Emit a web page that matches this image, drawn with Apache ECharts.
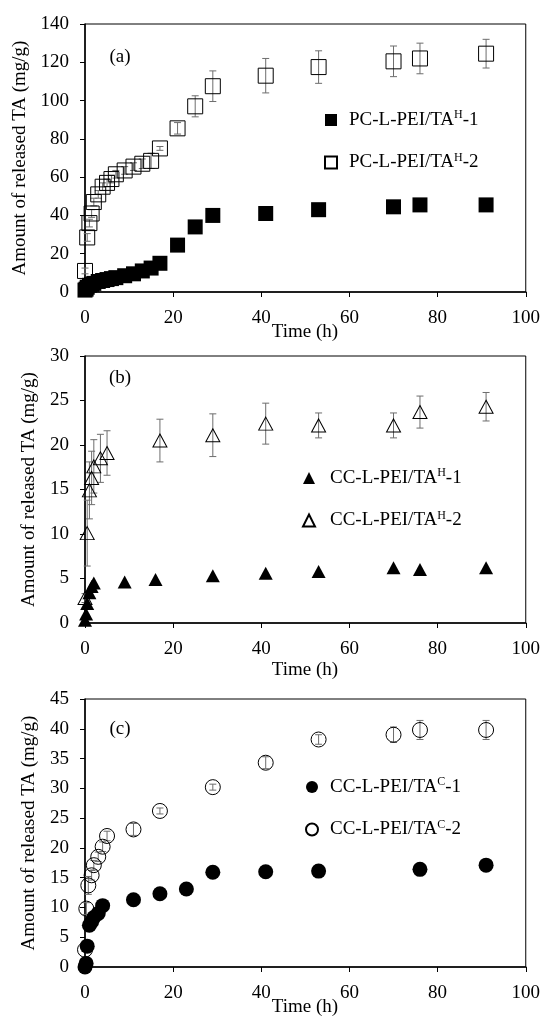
<!DOCTYPE html>
<html lang="en">
  <head>
    <meta charset="UTF-8" />
    <title>Release of TA</title>
    <script src="https://cdn.jsdelivr.net/npm/echarts@6/dist/echarts.min.js"></script>
    <style>
      html,
      body {
        margin: 0;
        padding: 0;
        background: #fff;
      }
      #chart {
        width: 543px;
        height: 1026px;
      }
    </style>
  </head>
  <body>
    <div id="chart"></div>
    <script>
      // panel (a)
      var timeA1 = [0, 0.25, 0.5, 1, 1.5, 2, 3, 4, 5, 6, 7, 9, 11, 13, 15, 17, 21, 25, 29, 41, 53, 70, 76, 91];
      var valA1 = [1, 1.5, 2.5, 3.5, 4, 4.5, 5.5, 6, 6.5, 7, 7.5, 8.5, 9.5, 11, 12.5, 15, 24.5, 34, 40, 41, 43, 44.5, 45.5, 45.5];
      var timeA2 = [0, 0.5, 1, 1.5, 2, 3, 4, 5, 6, 7, 9, 11, 13, 15, 17, 21, 25, 29, 41, 53, 70, 76, 91];
      var valA2 = [11, 28.5, 36, 41, 47, 51, 55, 57, 59, 61.5, 63.5, 65.5, 67, 68.5, 75, 85.5, 97, 107.5, 113, 117.5, 120.5, 122, 124.5];
      var errA2 = [1.5, 2, 2, 2, 2, 2, 2, 2, 2, 2, 2, 2, 2.5, 4, 1, 3, 5.5, 8, 9, 8.5, 8, 8, 7.5];

      // panel (b)
      var timeB1 = [0, 0.25, 0.5, 1, 1.5, 2, 9, 16, 29, 41, 53, 70, 76, 91];
      var valB1 = [0.3, 1, 2.2, 3.4, 4.1, 4.5, 4.6, 4.9, 5.3, 5.6, 5.8, 6.2, 6.0, 6.2];
      var timeB2 = [0, 0.5, 1, 1.5, 2, 3.5, 5, 17, 29, 41, 53, 70, 76, 91];
      var valB2 = [2.8, 10.1, 14.9, 16.3, 17.6, 18.5, 19.1, 20.5, 21.1, 22.4, 22.2, 22.2, 23.7, 24.3];
      var errB2 = [0.5, 3.7, 3.2, 3, 3, 2.7, 2.5, 2.4, 2.4, 2.3, 1.4, 1.4, 1.8, 1.6];

      // panel (c)
      var timeC1 = [0, 0.25, 0.5, 1, 1.5, 2, 3, 4, 11, 17, 23, 29, 41, 53, 76, 91];
      var valC1 = [0, 0.6, 3.5, 7, 7.6, 8.3, 9, 10.3, 11.3, 12.3, 13.1, 15.9, 16, 16.1, 16.4, 17.1];
      var timeC2 = [0, 0.3, 0.75, 1.5, 2, 3, 4, 5, 11, 17, 29, 41, 53, 70, 76, 91];
      var valC2 = [2.9, 9.8, 13.7, 15.4, 17.1, 18.5, 20.2, 22, 23.1, 26.2, 30.2, 34.3, 38.2, 39, 39.8, 39.8];
      var errC2 = [0.3, 1, 1.5, 0.8, 0.8, 0.8, 0.8, 0.8, 1, 0.5, 0.5, 1, 0.8, 1.3, 1.6, 1.6];

      var xTicks = [0, 20, 40, 60, 80, 100];
      var yMaxes = [140, 30, 45];
      var ySteps = [20, 5, 5];
      var panelNames = ["(a)", "(b)", "(c)"];
      var seriesNames = [
        ["PC-L-PEI/TAH-1", "PC-L-PEI/TAH-2"],
        ["CC-L-PEI/TAH-1", "CC-L-PEI/TAH-2"],
        ["CC-L-PEI/TAC-1", "CC-L-PEI/TAC-2"],
      ];

      var serif = '"Liberation Serif", "Times New Roman", serif';
      var grids = [
        { left: 85, top: 24, width: 441, height: 268 },
        { left: 85, top: 356, width: 441, height: 267 },
        { left: 85, top: 699, width: 441, height: 268 },
      ];

      function pairs(xs, ys) {
        return xs.map(function (x, i) {
          return [x, ys[i]];
        });
      }
      function bars(xs, ys, es) {
        return xs.map(function (x, i) {
          return [x, ys[i] - es[i], ys[i] + es[i]];
        });
      }

      function errorBar(params, api) {
        var x = api.value(0);
        var lo = api.coord([x, api.value(1)]);
        var hi = api.coord([x, api.value(2)]);
        var st = { stroke: "#6d6d6d", lineWidth: 1 };
        return {
          type: "group",
          children: [
            { type: "line", shape: { x1: lo[0], y1: lo[1], x2: hi[0], y2: hi[1] }, style: st },
            { type: "line", shape: { x1: lo[0] - 3.5, y1: lo[1], x2: lo[0] + 3.5, y2: lo[1] }, style: st },
            { type: "line", shape: { x1: hi[0] - 3.5, y1: hi[1], x2: hi[0] + 3.5, y2: hi[1] }, style: st },
          ],
        };
      }

      var xAxes = [];
      var yAxes = [];
      for (var i = 0; i < 3; i++) {
        xAxes.push({
          type: "value",
          gridIndex: i,
          min: xTicks[0],
          max: xTicks[xTicks.length - 1],
          interval: 20,
          axisLine: { onZero: false, lineStyle: { color: "#000", width: 1.5 } },
          axisTick: { length: 5, lineStyle: { color: "#000" } },
          axisLabel: { color: "#000", fontSize: 19, fontFamily: serif, margin: 17 },
          splitLine: { show: false },
        });
        yAxes.push({
          type: "value",
          gridIndex: i,
          min: 0,
          max: yMaxes[i],
          interval: ySteps[i],
          name: "Amount of released TA (mg/g)",
          nameLocation: "middle",
          nameGap: 46,
          nameTextStyle: { color: "#000", fontSize: 19, fontWeight: 400, fontFamily: serif },
          axisLine: { onZero: false, lineStyle: { color: "#000", width: 1.5 } },
          axisTick: { length: 5, lineStyle: { color: "#000" } },
          axisLabel: { color: "#000", fontSize: 19, fontFamily: serif, margin: 16 },
          splitLine: { show: false },
        });
      }

      var filled = { color: "#000", opacity: 1 };
      var hollow = { color: "rgba(0,0,0,0)", borderColor: "#000", borderWidth: 1, opacity: 1 };

      var series = [
        { name: seriesNames[0][0], type: "scatter", xAxisIndex: 0, yAxisIndex: 0, symbol: "rect", symbolSize: 15, itemStyle: filled, data: pairs(timeA1, valA1), z: 3 },
        { name: seriesNames[0][1], type: "scatter", xAxisIndex: 0, yAxisIndex: 0, symbol: "rect", symbolSize: 15, itemStyle: hollow, data: pairs(timeA2, valA2), z: 3 },
        { type: "custom", xAxisIndex: 0, yAxisIndex: 0, renderItem: errorBar, data: bars(timeA2, valA2, errA2), z: 2 },
        { name: seriesNames[1][0], type: "scatter", xAxisIndex: 1, yAxisIndex: 1, symbol: "triangle", symbolSize: [14, 13], itemStyle: filled, data: pairs(timeB1, valB1), z: 3 },
        { name: seriesNames[1][1], type: "scatter", xAxisIndex: 1, yAxisIndex: 1, symbol: "triangle", symbolSize: [14, 13], itemStyle: hollow, data: pairs(timeB2, valB2), z: 3 },
        { type: "custom", xAxisIndex: 1, yAxisIndex: 1, renderItem: errorBar, data: bars(timeB2, valB2, errB2), z: 2 },
        { name: seriesNames[2][0], type: "scatter", xAxisIndex: 2, yAxisIndex: 2, symbol: "circle", symbolSize: 15, itemStyle: filled, data: pairs(timeC1, valC1), z: 3 },
        { name: seriesNames[2][1], type: "scatter", xAxisIndex: 2, yAxisIndex: 2, symbol: "circle", symbolSize: 15, itemStyle: hollow, data: pairs(timeC2, valC2), z: 3 },
        { type: "custom", xAxisIndex: 2, yAxisIndex: 2, renderItem: errorBar, data: bars(timeC2, valC2, errC2), z: 2 },
      ];

      var legendPos = [
        { left: 319, top: 104, icon: "rect" },
        { left: 297, top: 462, icon: "triangle" },
        { left: 300, top: 771, icon: "circle" },
      ];
      var legends = legendPos.map(function (p, i) {
        return {
          orient: "vertical",
          left: p.left,
          top: p.top,
          itemWidth: 12,
          itemHeight: 12,
          itemGap: 22,
          icon: p.icon,
          selectedMode: false,
          data: seriesNames[i],
          formatter: function (name) {
            var m = name.match(/^(.*TA)([HC])(-\d)$/);
            return "{b|" + m[1] + "}{s|" + m[2] + "}{b|" + m[3] + "}";
          },
          textStyle: {
            padding: [0, 0, 0, i === 1 ? 10 : 7],
            rich: {
              b: { fontSize: 19, fontFamily: serif, color: "#000", lineHeight: 22 },
              s: { fontSize: 12, fontFamily: serif, color: "#000", lineHeight: 16, verticalAlign: "top" },
            },
          },
        };
      });

      // panel tags and x-axis titles
      var texts = [
        [120, 57, panelNames[0]],
        [120, 378, panelNames[1]],
        [120, 729, panelNames[2]],
        [305, 332, "Time (h)"],
        [305, 670, "Time (h)"],
        [305, 1007, "Time (h)"],
      ].map(function (p) {
        return {
          type: "text",
          x: p[0],
          y: p[1],
          style: { text: p[2], fill: "#000", font: "19px " + serif, textAlign: "center", textVerticalAlign: "middle" },
        };
      });

      var chart = echarts.init(document.getElementById("chart"));
      chart.setOption({
        backgroundColor: "#fff",
        animation: false,
        grid: grids.map(function (g) {
          return Object.assign({ show: true, borderColor: "#000", borderWidth: 1 }, g);
        }),
        xAxis: xAxes,
        yAxis: yAxes,
        legend: legends,
        graphic: texts,
        series: series,
      });
    </script>
  </body>
</html>
